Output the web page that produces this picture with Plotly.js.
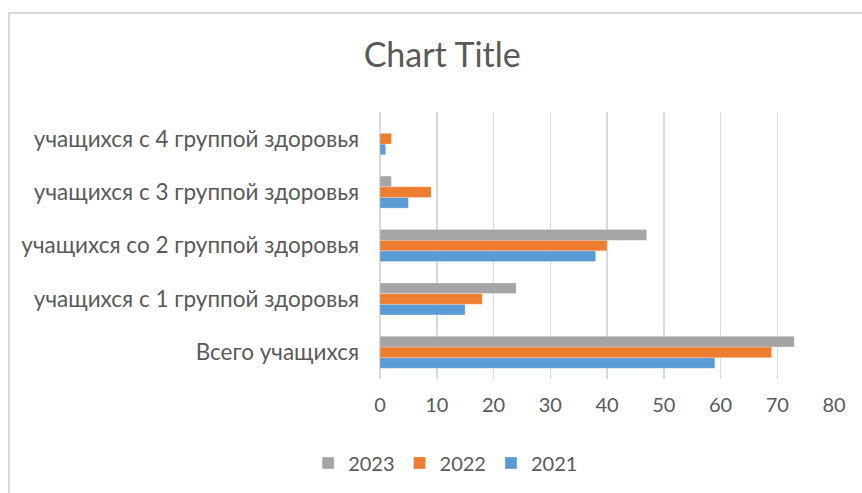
<!DOCTYPE html>
<html><head><meta charset="utf-8">
<script src="https://cdn.plot.ly/plotly-3.0.1.min.js"></script>
<style>
html,body{margin:0;padding:0;background:#fff;}
#wrap{position:relative;width:862px;height:493px;}
#frame{position:absolute;left:8px;top:12px;right:-4px;bottom:-4px;border-left:2px solid #d9d9d9;border-top:2px solid #d9d9d9;pointer-events:none;z-index:5;}
#chart{width:862px;height:493px;}
</style></head>
<body><div id="wrap"><div id="chart"></div><div id="frame"></div></div>
<script>
const categories = ["Всего учащихся","учащихся с 1 группой здоровья","учащихся со 2 группой здоровья","учащихся с 3 группой здоровья","учащихся с 4 группой здоровья"];
const v2021 = [59, 15, 38, 5, 1];
const v2022 = [69, 18, 40, 9, 2];
const v2023 = [73, 24, 47, 2, 0];
const xTicks = [0,10,20,30,40,50,60,70,80];
const font = "Lato, Open Sans, sans-serif";
const mk = (name, vals, color) => ({type:'bar', orientation:'h', name:name, y:categories, x:vals,
  marker:{color:color, line:{color:'rgba(255,255,255,0.5)', width:0.5}}, hoverinfo:'x+name'});
const data = [mk('2021', v2021, '#5b9bd5'), mk('2022', v2022, '#ed7d31'), mk('2023', v2023, '#a5a5a5')];
const layout = {
  width:862, height:493,
  margin:{l:380, r:28, t:112, b:114},
  paper_bgcolor:'#fff', plot_bgcolor:'#fff',
  barmode:'group', bargap:0.4, bargroupgap:0,
  title:{text:'Chart Title', font:{family:font, size:34, color:'#595959'}, x:0.513, xref:'container', xanchor:'center', y:0.888, yref:'container', yanchor:'middle'},
  xaxis:{range:[0,80], tickvals:xTicks, ticktext:xTicks.map(String), showgrid:true, gridcolor:'#d9d9d9', gridwidth:1.5,
    zeroline:true, zerolinecolor:'#d9d9d9', zerolinewidth:1.5, showline:false, ticks:'', ticklabelstandoff:12,
    tickfont:{family:font, size:20, color:'#595959'}, fixedrange:true},
  yaxis:{categoryorder:'array', categoryarray:categories, showgrid:false, zeroline:false, showline:false, ticks:'',
    ticklabelstandoff:20, tickfont:{family:font, size:22.5, color:'#595959'}, fixedrange:true},
  legend:{orientation:'h', traceorder:'reversed', x:0.517, xref:'container', xanchor:'center', y:0.061, yref:'container', yanchor:'middle',
    font:{family:font, size:20, color:'#595959'}, itemwidth:30},
  showlegend:true
};
Plotly.newPlot('chart', data, layout, {displayModeBar:false, staticPlot:true});
</script></body></html>
